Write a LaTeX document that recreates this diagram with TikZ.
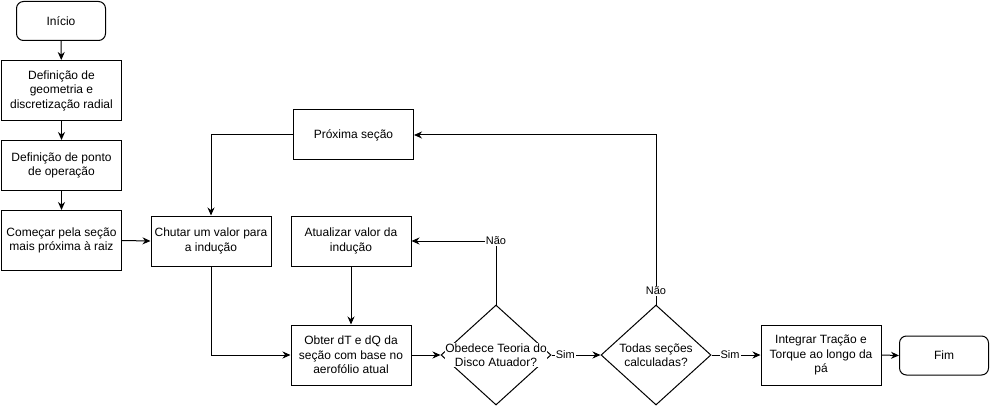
\documentclass[tikz,border=0pt]{standalone}
\usepackage{fontspec}
\setmainfont{Liberation Sans}
\usetikzlibrary{shapes.geometric,arrows.meta}

\begin{document}
\begin{tikzpicture}[x=1pt,y=-1pt,line width=1pt,
	every node/.style={font=\fontsize{12}{14.5}\selectfont,align=center},
	caixa/.style={draw,minimum width=120pt,minimum height=60pt,inner sep=2pt},
	caixab/.style={caixa,minimum height=50pt},
	term/.style={draw,rounded corners=7pt,minimum width=89pt,minimum height=39pt},
	losango/.style={draw,diamond,minimum width=110pt,minimum height=100pt,inner sep=0pt},
	rot/.style={fill=white,inner sep=1pt,font=\fontsize{11}{13}\selectfont},
	seta/.style={-{Stealth[length=8pt,width=7pt]}}]
		\useasboundingbox (0,0) rectangle (990,406);
		\node[term] (ini) at (61,21) {Início};
		\node[caixa] (geo) at (61.5,90.5) {Definição de\\geometria e\\discretização radial};
		\node[caixab] (op) at (61.5,165.5) {Definição de ponto\\de operação};
		\node[caixa] (com) at (61.5,240.5) {Começar pela seção\\mais próxima à raiz};
		\node[caixab] (chu) at (211,241) {Chutar um valor para\\a indução};
		\node[caixab] (prox) at (353.5,135) {Próxima seção};
		\node[caixab] (atu) at (351,241) {Atualizar valor da\\indução};
		\node[caixa] (obt) at (351,355) {Obter dT e dQ da\\seção com base no\\aerofólio atual};
		\node[losango] (d1) at (496,355) {};
		\node[fill=white,inner sep=0pt] (d1txt) at (496,355) {Obedece Teoria do\\Disco Atuador?};
		\node[losango] (d2) at (656,355) {};
		\node (d2txt) at (656,355) {Todas seções\\calculadas?};
		\node[caixa] (int) at (821,355) {Integrar Tração e\\Torque ao longo da\\pá};
		\node[term] (fim) at (944,355.5) {Fim};
		\draw[seta] (ini) -- (geo);
		\draw[seta] (geo) -- (op);
		\draw[seta] (op) -- (com);
		\draw[seta] (com.east) -- (chu.west);
		\draw[seta] (prox.west) -| (chu.north);
		\draw[seta] (chu.south) |- (obt.west);
		\draw[seta] (atu.south) -- (obt.north);
		\draw[seta] (obt.east) -- (d1.west);
		\draw[seta] (d1.north) |- node[rot,pos=0.5] (nao1) {Não} (atu.east);
		\draw[seta] (d1.east) -- node[rot,pos=0.28] (sim1) {Sim} (d2.west);
		\draw[seta] (d2.north) |- node[rot,pos=0.04] (nao2) {Não} (prox.east);
		\draw[seta] (d2.east) -- node[rot,pos=0.38] (sim2) {Sim} (int.west);
		\draw[seta] (int.east) -- (fim.west);
\end{tikzpicture}
\end{document}
